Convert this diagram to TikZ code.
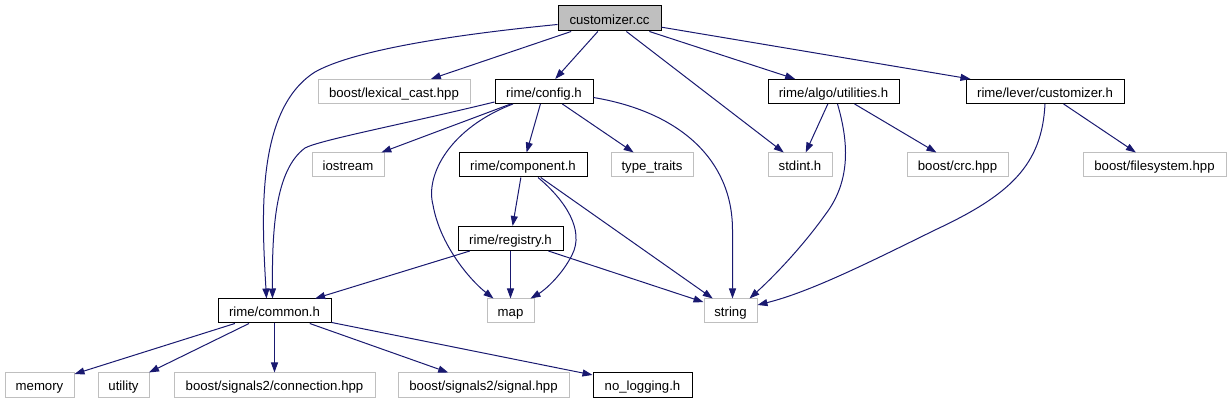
\documentclass[tikz,border=0pt]{standalone}
\usepackage{fontspec}
\setmainfont{Liberation Sans}
\usetikzlibrary{arrows.meta}
\definecolor{edgeblue}{HTML}{191970}
\definecolor{boxgray}{HTML}{BFBFBF}
\tikzset{
  hdrbox/.style={draw=black, line width=1pt, minimum height=24pt, inner sep=0pt,
    font=\fontsize{13.2}{15}\selectfont, text height=12pt, text depth=0.6pt},
  extbox/.style={hdrbox, draw=boxgray},
  srcbox/.style={hdrbox, fill=boxgray, minimum height=25pt},
  inc/.style={-{Triangle[length=10pt,width=7pt]}, edgeblue, line width=1pt}
}
\begin{document}
\begin{tikzpicture}[x=1pt, y=-1pt]
\useasboundingbox (0,0) rectangle (1232,403);

% Top row
\node[srcbox, minimum width=103pt] (cc) at (609.5,18.5) {customizer.cc};
\node[extbox, minimum width=152pt] (lex) at (394,91.5) {boost/lexical\_cast.hpp};
\node[hdrbox, minimum width=98pt] (cfg) at (544,91.5) {rime/config.h};
\node[hdrbox, minimum width=131pt] (util) at (833.5,91.5) {rime/algo/utilities.h};
\node[hdrbox, minimum width=158pt] (lever) at (1045,91.5) {rime/lever/customizer.h};

% Second row
\node[extbox, minimum width=72pt] (ios) at (348,165) {iostream};
\node[hdrbox, minimum width=128pt] (comp) at (523,165) {rime/component.h};
\node[extbox, minimum width=82pt] (tt) at (652,165) {type\_traits};
\node[extbox, minimum width=64pt] (sint) at (800,165) {stdint.h};
\node[extbox, minimum width=101pt] (crc) at (957.5,165) {boost/crc.hpp};
\node[extbox, minimum width=143pt] (fs) at (1154.5,165) {boost/filesystem.hpp};

% Third and fourth rows
\node[hdrbox, minimum width=105pt] (reg) at (510.5,238.5) {rime/registry.h};
\node[hdrbox, minimum width=113pt] (cmn) at (274.5,311) {rime/common.h};
\node[extbox, minimum width=47pt] (map) at (510.5,311) {map};
\node[extbox, minimum width=53pt] (str) at (730.5,311) {string};

% Bottom row
\node[extbox, minimum width=69pt] (mem) at (39.5,385) {memory};
\node[extbox, minimum width=51pt] (utl) at (123.5,385) {utility};
\node[extbox, minimum width=201pt] (conn) at (274.5,385) {boost/signals2/connection.hpp};
\node[extbox, minimum width=171pt] (sig) at (483.5,385) {boost/signals2/signal.hpp};
\node[hdrbox, minimum width=99pt] (nolog) at (642.5,385) {no\_logging.h};

% Edges from customizer.cc
\draw[inc] ([yshift=-6pt]cc.west) .. controls (420,38) and (345,55) .. (315,72)
  .. controls (255,110) and (262,220) .. ([xshift=-8pt]cmn.north);
\draw[inc] (cc) -- (lex);
\draw[inc] (cc) -- (cfg);
\draw[inc] (cc) -- (sint);
\draw[inc] (cc) -- (util);
\draw[inc] (cc) -- (lever);

% Edges from rime/config.h
\draw[inc] ([yshift=2pt]cfg.south west) .. controls (400,125) and (320,140) .. (305,148)
  .. controls (275,170) and (272,230) .. ([xshift=-2pt]cmn.north);
\draw[inc] (cfg) -- (ios);
\draw[inc] ([xshift=-31pt]cfg.south) .. controls (450,128) and (425,175) .. (433,205)
  .. controls (440,245) and (470,280) .. ([xshift=-17pt]map.north);
\draw[inc] (cfg) -- (comp);
\draw[inc] (cfg) -- (tt);
\draw[inc] ([yshift=-6pt]cfg.east) .. controls (680,112) and (732.5,160) .. (732.5,230)
  -- ([xshift=2pt]str.north);

% Edges from rime/algo/utilities.h and rime/lever/customizer.h
\draw[inc] (util) -- (sint);
\draw[inc] (util) -- (crc);
\draw[inc] ([xshift=4pt]util.south) .. controls (848,140) and (852,180) .. (825,215)
  .. controls (800,250) and (770,280) .. ([xshift=-8pt]str.north east);
\draw[inc] (lever.south) .. controls (1042,165) and (1010,195) .. (935,230)
  .. controls (870,262) and (810,292) .. ([yshift=6pt]str.east);
\draw[inc] (lever) -- (fs);

% Edges from rime/component.h and rime/registry.h
\draw[inc] (comp) -- (reg);
\draw[inc] ([xshift=15pt]comp.south) .. controls (565,200) and (585,230) .. (572,255)
  .. controls (562,275) and (545,290) .. ([xshift=-4pt]map.north east);
\draw[inc] (comp) -- (str);
\draw[inc] (reg) -- (cmn);
\draw[inc] (reg) -- (map);
\draw[inc] (reg) -- (str);

% Edges from rime/common.h
\draw[inc] (cmn) -- (mem);
\draw[inc] (cmn) -- (utl);
\draw[inc] (cmn) -- (conn);
\draw[inc] (cmn) -- (sig);
\draw[inc] (cmn) -- (nolog);

\end{tikzpicture}
\end{document}
